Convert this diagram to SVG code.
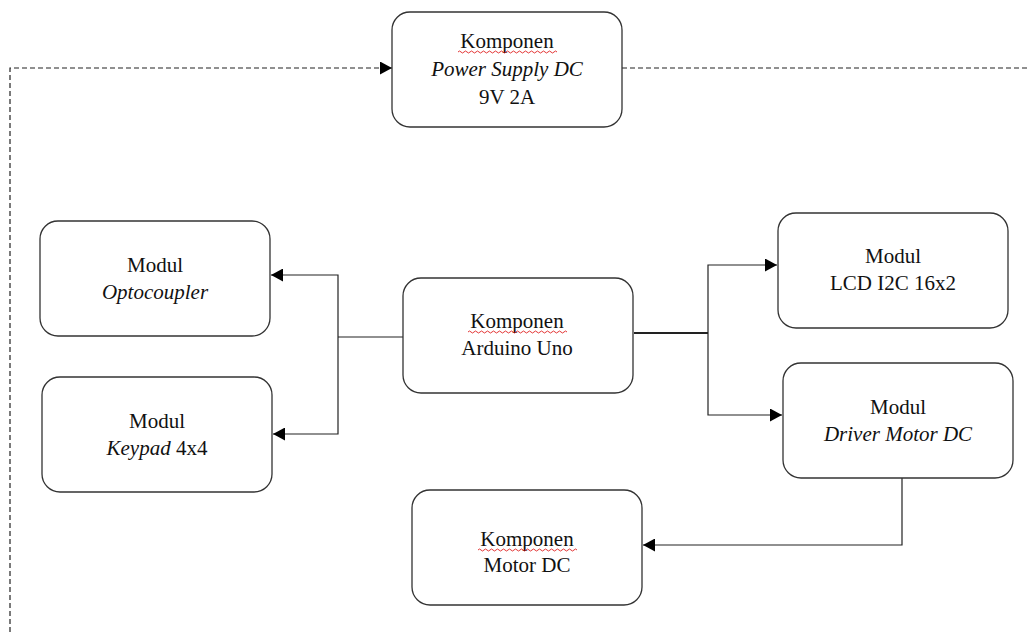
<svg xmlns="http://www.w3.org/2000/svg" width="1027" height="637" viewBox="0 0 1027 637">
<style>
.box{fill:#fff;stroke:#333;stroke-width:1.3}
.t{font-family:"Liberation Serif","Times New Roman",serif;font-size:21px;fill:#111;text-anchor:middle}
.i{font-style:italic}
.ln{fill:none;stroke:#222;stroke-width:1.2}
.dash{fill:none;stroke:#222;stroke-width:1.2;stroke-dasharray:5 3}
.wave{fill:none;stroke:#e02020;stroke-width:0.9}
</style>
<defs>
<marker id="ah" markerWidth="13" markerHeight="13" refX="12" refY="6.5" orient="auto" markerUnits="userSpaceOnUse">
<path d="M0,0 L12,6.5 L0,13 Z" fill="#000"/>
</marker>
</defs>
<g id="connectors">
<path class="dash" d="M10,632 L10,68 L392,68" marker-end="url(#ah)"/>
<path class="dash" d="M622,68 L1027,68"/>
<path class="ln" d="M403,337 L338,337"/>
<path class="ln" d="M338,337 L338,275 L271,275" marker-end="url(#ah)"/>
<path class="ln" d="M338,337 L338,434 L273,434" marker-end="url(#ah)"/>
<path class="ln" d="M634,333 L708,333" style="stroke-width:2"/>
<path class="ln" d="M708,333 L708,265 L777,265" marker-end="url(#ah)"/>
<path class="ln" d="M708,333 L708,415 L782,415" marker-end="url(#ah)"/>
<path class="ln" d="M902,478 L902,545 L643,545" marker-end="url(#ah)"/>
</g>
<g id="power">
<rect class="box" x="392" y="12" width="230" height="115" rx="18"/>
<text class="t" x="507" y="48">Komponen</text>
<path class="wave" d="M458,52 q1.5,-2 3,0 t3,0 t3,0 t3,0 t3,0 t3,0 t3,0 t3,0 t3,0 t3,0 t3,0 t3,0 t3,0 t3,0 t3,0 t3,0 t3,0 t3,0 t3,0 t3,0 t3,0 t3,0 t3,0 t3,0 t3,0 t3,0 t3,0 t3,0 t3,0 t3,0 t3,0 t3,0 t3,0"/>
<text class="t i" x="507" y="76">Power Supply DC</text>
<text class="t" x="507" y="104">9V 2A</text>
</g>
<g id="optocoupler">
<rect class="box" x="40" y="221" width="230" height="115" rx="18"/>
<text class="t" x="155" y="272">Modul</text>
<text class="t i" x="155" y="299">Optocoupler</text>
</g>
<g id="keypad">
<rect class="box" x="42" y="377" width="230" height="115" rx="18"/>
<text class="t" x="157" y="428">Modul</text>
<text class="t" x="157" y="455"><tspan class="i">Keypad</tspan> 4x4</text>
</g>
<g id="arduino">
<rect class="box" x="403" y="278" width="230" height="115" rx="18"/>
<text class="t" x="517" y="328">Komponen</text>
<path class="wave" d="M468,332 q1.5,-2 3,0 t3,0 t3,0 t3,0 t3,0 t3,0 t3,0 t3,0 t3,0 t3,0 t3,0 t3,0 t3,0 t3,0 t3,0 t3,0 t3,0 t3,0 t3,0 t3,0 t3,0 t3,0 t3,0 t3,0 t3,0 t3,0 t3,0 t3,0 t3,0 t3,0 t3,0 t3,0 t3,0"/>
<text class="t" x="517" y="355">Arduino Uno</text>
</g>
<g id="lcd">
<rect class="box" x="778" y="213" width="230" height="115" rx="18"/>
<text class="t" x="893" y="263">Modul</text>
<text class="t" x="893" y="290">LCD I2C 16x2</text>
</g>
<g id="driver">
<rect class="box" x="783" y="363" width="230" height="115" rx="18"/>
<text class="t" x="898" y="414">Modul</text>
<text class="t i" x="898" y="441">Driver Motor DC</text>
</g>
<g id="motor">
<rect class="box" x="412" y="490" width="230" height="115" rx="18"/>
<text class="t" x="527" y="546">Komponen</text>
<path class="wave" d="M478,550 q1.5,-2 3,0 t3,0 t3,0 t3,0 t3,0 t3,0 t3,0 t3,0 t3,0 t3,0 t3,0 t3,0 t3,0 t3,0 t3,0 t3,0 t3,0 t3,0 t3,0 t3,0 t3,0 t3,0 t3,0 t3,0 t3,0 t3,0 t3,0 t3,0 t3,0 t3,0 t3,0 t3,0 t3,0"/>
<text class="t" x="527" y="572">Motor DC</text>
</g>
</svg>
